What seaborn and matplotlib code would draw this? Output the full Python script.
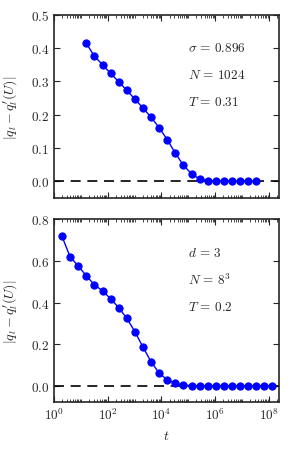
import math
import matplotlib
matplotlib.use('Agg')
import matplotlib.pyplot as plt
import seaborn as sns
from matplotlib.ticker import FuncFormatter, LogLocator, FixedLocator, NullFormatter

# Panel a: sigma = 0.896, N = 1024, T = 0.31
t_top = [16, 32, 64, 128, 256, 512, 1024, 2048, 4096, 8192, 16384, 32768,
         65536, 131072, 262144, 524288, 1048576, 2097152, 4194304,
         8388608, 16777216, 33554432]
q_top = [0.414, 0.376, 0.350, 0.324, 0.299, 0.273, 0.247, 0.220, 0.192,
         0.161, 0.125, 0.084, 0.048, 0.022, 0.007, 0.002, 0.001, 0.0005,
         0.0003, 0.0002, 0.0001, 0.0001]
labels_top = [r'$\sigma\,=\,0.896$', r'$N\,=\,1024$', r'$T\,=\,0.31$']

# Panel b: d = 3, N = 8^3, T = 0.2
t_bot = [2, 4, 8, 16, 32, 64, 128, 256, 512, 1024, 2048, 4096, 8192, 16384,
         32768, 65536, 131072, 262144, 524288, 1048576, 2097152, 4194304,
         8388608, 16777216, 33554432, 67108864, 134217728]
q_bot = [0.717, 0.619, 0.576, 0.528, 0.486, 0.456, 0.419, 0.376, 0.325,
         0.261, 0.187, 0.117, 0.062, 0.030, 0.013, 0.006, 0.002, 0.001,
         0.001, 0.001, 0.001, 0.001, 0.001, 0.001, 0.001, 0.001, 0.001]
labels_bot = [r'$d\,=\,3$', r'$N\,=\,8^3$', r'$T\,=\,0.2$']

sns.set_style('ticks')
plt.rcParams['font.family'] = ['DejaVu Serif']
plt.rcParams['mathtext.fontset'] = 'cm'
plt.rcParams['xtick.direction'] = 'in'
plt.rcParams['ytick.direction'] = 'in'

fig = plt.figure(figsize=(2.9, 4.52), dpi=100)
ax1 = fig.add_axes([0.186, 0.560, 0.776, 0.405])
ax2 = fig.add_axes([0.186, 0.108, 0.776, 0.405], sharex=ax1)

panels = [(ax1, t_top, q_top, labels_top, (-0.05, 0.5), 0.1),
          (ax2, t_bot, q_bot, labels_bot, (-0.077, 0.8), 0.2)]

for ax, t, q, labels, ylim, ystep in panels:
    ax.axhline(0, color='black', ls=(0, (6, 4)), lw=1.2, zorder=1)
    sns.lineplot(x=t, y=q, ax=ax, color='#0000ff', marker='o', markersize=5.2,
                 markeredgecolor='#0000ff', lw=1.0, zorder=3)
    ax.set_xscale('log')
    ax.set_xlim(1, 10 ** 8.37)
    ax.set_ylim(*ylim)
    ax.set_yticks([i * ystep for i in range(int(round(ylim[1] / ystep)) + 1)])
    ax.yaxis.set_major_formatter(FuncFormatter(lambda v, p: r'$%.1f$' % v))
    ax.xaxis.set_major_locator(FixedLocator([1, 1e2, 1e4, 1e6, 1e8]))
    ax.xaxis.set_minor_locator(LogLocator(base=10, subs=range(1, 10), numticks=50))
    ax.xaxis.set_minor_formatter(NullFormatter())
    ax.xaxis.set_major_formatter(FuncFormatter(lambda v, p: r'$10^{%d}$' % round(math.log10(v))))
    ax.tick_params(which='both', top=True, right=True, labelsize=9.5)
    ax.tick_params(which='major', length=4, width=0.8)
    ax.tick_params(which='minor', length=2, width=0.6)
    for s in ax.spines.values():
        s.set_linewidth(1.2)
    ax.set_ylabel(r"$|q_l - q_l'(U)|$", fontsize=10)
    for lab, yy in zip(labels, [0.82, 0.672, 0.525]):
        ax.text(0.595, yy, lab, transform=ax.transAxes, fontsize=9.5, va='center')

ax1.tick_params(labelbottom=False)
ax1.set_xlabel('')
ax2.set_xlabel(r'$t$', fontsize=10)
ax1.yaxis.set_label_coords(-0.15, 0.5)
ax2.yaxis.set_label_coords(-0.15, 0.5)

fig.savefig('out.png', dpi=100)
